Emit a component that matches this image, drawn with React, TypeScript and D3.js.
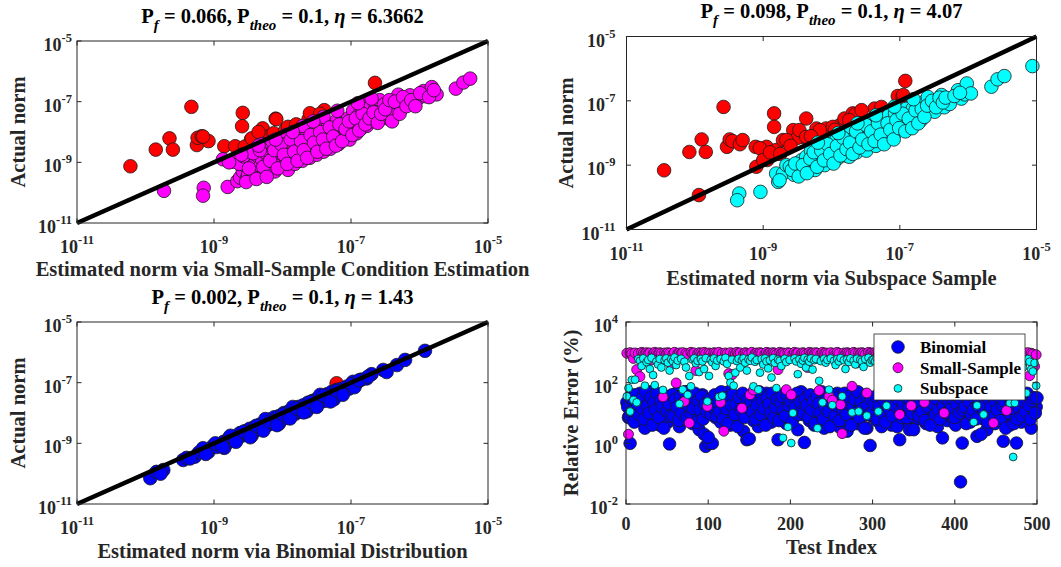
import React from 'react';
import * as d3 from 'd3';

// ---------- DATA (log10 values) ----------
// Panel 1: estimated (x) vs actual (y) norm, Small-Sample Condition Estimation
const ssceFail: [number, number][] = [
  [-10.22,-9.13],[-9.85,-8.58],[-9.65,-8.21],[-9.60,-8.58],[-9.33,-7.17],[-9.25,-8.43],[-9.24,-8.19],[-9.18,-8.14],
  [-9.08,-8.30],[-9.16,-8.15],[-8.85,-8.47],[-8.69,-8.47],[-8.58,-7.37],[-8.59,-7.81],[-8.46,-8.25],[-8.55,-8.48],
  [-8.45,-8.21],[-8.29,-7.88],[-8.10,-7.56],[-8.16,-8.14],[-8.20,-8.15],[-8.13,-8.04],[-8.09,-7.58],[-7.96,-7.94],
  [-7.92,-7.83],[-7.55,-7.45],[-7.39,-7.28],[-7.62,-7.58],[-7.60,-7.38],[-6.65,-6.38],[-7.45,-7.40],[-8.35,-8.00],[-7.80,-7.75]
];
const ssceOk: [number, number][] = [
  [-9.73,-9.94],[-9.15,-9.84],[-9.16,-10.10],[-8.80,-9.81],[-8.87,-8.90],[-8.72,-8.98],
  [-8.66,-9.62],[-8.62,-9.50],[-8.58,-9.30],[-8.55,-9.10],[-8.52,-9.52],[-8.50,-9.40],[-8.47,-8.95],[-8.45,-9.25],
  [-8.42,-9.45],[-8.40,-9.05],[-8.37,-8.78],[-8.35,-9.30],[-8.32,-9.12],[-8.30,-8.90],[-8.27,-9.38],[-8.24,-8.70],
  [-8.21,-9.00],[-8.19,-8.66],[-8.17,-9.22],[-8.14,-8.85],[-8.11,-9.30],[-8.08,-8.55],[-8.06,-8.95],[-8.03,-9.10],
  [-8.00,-8.70],[-7.97,-8.48],[-7.95,-8.90],[-7.92,-9.25],[-7.90,-8.60],[-7.87,-8.35],[-7.85,-8.80],[-7.82,-9.05],
  [-7.80,-8.50],[-7.77,-8.22],[-7.74,-8.70],[-7.71,-8.95],[-7.68,-8.40],[-7.65,-8.15],[-7.63,-8.62],[-7.60,-8.85],
  [-7.58,-8.30],[-7.55,-8.05],[-7.52,-8.50],[-7.50,-8.75],[-7.47,-8.20],[-7.44,-7.90],[-7.42,-8.40],[-7.40,-8.65],
  [-7.37,-8.10],[-7.34,-7.80],[-7.32,-8.30],[-7.30,-8.55],[-7.27,-7.95],[-7.24,-8.20],[-7.21,-7.62],[-7.18,-8.40],
  [-7.15,-7.95],[-7.12,-8.15],[-7.10,-7.70],[-7.07,-8.00],[-7.04,-7.55],[-7.02,-8.25],[-6.99,-7.85],[-6.97,-7.30],
  [-6.94,-7.70],[-6.92,-8.05],[-6.89,-7.45],[-6.86,-7.90],[-6.84,-7.20],[-6.82,-7.60],[-6.80,-7.05],[-6.77,-7.80],
  [-6.74,-7.40],[-6.71,-7.15],[-6.68,-7.65],[-6.65,-7.25],[-6.62,-7.50],
  [-8.30,-8.40],[-7.70,-7.80],[-7.40,-7.50],[-7.95,-8.10],[-8.15,-8.30],
  [-6.59,-7.34],[-6.58,-6.95],[-6.52,-7.10],[-6.47,-7.55],[-6.42,-7.20],[-6.38,-7.45],[-6.31,-6.77],[-6.26,-7.23],
  [-6.22,-6.95],[-6.14,-6.79],[-6.09,-7.01],[-6.02,-6.90],[-5.94,-6.65],[-5.91,-6.82],[-5.82,-6.52],[-5.75,-6.76],
  [-5.47,-6.57],[-5.36,-6.37],[-5.26,-6.24],
  [-8.63,-9.05],[-8.57,-8.80],[-8.53,-9.65],[-8.49,-9.20],[-8.43,-8.70],[-8.38,-9.55],[-8.33,-8.60],[-8.28,-9.15],
  [-8.23,-9.48],[-8.18,-8.95],[-8.12,-8.60],[-8.07,-9.20],[-8.02,-8.40],[-7.98,-8.75],[-7.93,-9.05],[-7.88,-8.25],
  [-7.83,-8.65],[-7.78,-8.95],[-7.73,-8.30],[-7.69,-8.60],[-7.64,-8.85],[-7.59,-8.10],[-7.54,-8.35],[-7.49,-8.65],
  [-7.45,-8.00],[-7.41,-8.25],[-7.36,-8.55],[-7.31,-7.85],[-7.26,-8.15],[-7.22,-8.45],[-7.17,-7.75],[-7.13,-8.30],
  [-7.08,-7.90],[-7.03,-7.65],[-6.98,-8.10],[-6.93,-7.55],[-6.88,-7.95],[-6.83,-7.40],[-6.79,-7.75],[-6.73,-7.55],
  [-6.67,-7.35],[-6.61,-7.70],[-6.56,-7.40],[-6.50,-7.25],[-6.44,-6.95],[-6.40,-7.65],[-6.36,-7.00],[-6.29,-7.40],
  [-6.24,-6.85],[-6.19,-7.15],[-6.12,-6.95],[-6.06,-7.15],[-5.99,-6.72],[-5.86,-6.85],[-5.79,-6.62],[-8.35,-8.45],
  [-8.10,-8.25],[-7.85,-8.00],[-7.55,-7.65],[-7.20,-7.30],[-6.90,-7.05],[-6.70,-6.90],[-8.60,-8.75],[-8.78,-9.00]
];

// Panel 2: Subspace Sample
const subFail: [number, number][] = [
  [-10.45,-9.16],[-10.08,-8.59],[-9.90,-8.20],[-9.84,-8.59],[-9.58,-7.19],[-9.53,-8.43],[-9.49,-8.20],[-9.45,-8.25],
  [-9.34,-8.35],[-9.94,-9.93],[-9.10,-9.05],[-9.11,-8.43],[-8.95,-8.43],[-8.94,-8.84],[-8.84,-7.39],[-8.84,-7.81],
  [-8.81,-8.53],[-8.71,-8.22],[-8.56,-7.91],[-8.37,-7.55],[-8.44,-8.12],[-8.50,-8.15],[-8.22,-7.86],[-8.08,-7.86],
  [-7.88,-7.76],[-7.81,-7.55],[-7.69,-7.39],[-7.65,-7.42],[-7.37,-7.24],[-7.03,-6.85],[-6.92,-6.38],[-9.05,-8.47],
  [-9.00,-8.84],[-8.90,-8.60],[-8.66,-8.22],[-8.47,-7.91],[-8.37,-8.12],[-8.17,-7.91],[-7.98,-7.81],[-7.74,-7.60],
  [-7.56,-7.29],[-7.27,-7.19],[-6.96,-6.87],[-9.30,-8.22],[-6.95,-6.82],[-8.60,-8.40],[-8.30,-8.10],[-7.95,-7.90],[-8.75,-8.65]
];
const subOk: [number, number][] = [
  [-9.35,-9.88],[-9.38,-10.09],[-9.04,-9.83],[-8.78,-9.52],[-8.81,-9.26],[-8.71,-9.26],[-8.66,-9.00],[-8.61,-9.05],[-8.76,-9.47],
  [-8.55,-9.30],[-8.50,-9.10],[-8.47,-9.16],[-8.44,-8.85],[-8.40,-9.20],[-8.37,-8.74],[-8.34,-9.05],[-8.30,-8.55],
  [-8.27,-8.95],[-8.24,-9.15],[-8.22,-8.90],[-8.19,-8.45],[-8.16,-8.75],[-8.13,-8.38],[-8.10,-9.00],[-8.07,-8.60],
  [-8.04,-8.25],[-8.01,-8.85],[-7.98,-8.45],[-7.95,-8.10],[-7.93,-8.22],[-7.91,-8.79],[-7.88,-8.55],[-7.85,-8.05],
  [-7.82,-8.35],[-7.79,-8.70],[-7.76,-8.15],[-7.74,-8.74],[-7.71,-7.90],[-7.68,-8.45],[-7.66,-8.12],[-7.63,-8.60],
  [-7.60,-7.80],[-7.57,-8.30],[-7.54,-8.00],[-7.52,-8.38],[-7.49,-8.55],[-7.47,-7.81],[-7.44,-8.20],[-7.41,-7.65],
  [-7.38,-8.05],[-7.35,-8.40],[-7.33,-7.55],[-7.30,-7.96],[-7.27,-8.25],[-7.24,-7.75],[-7.22,-7.60],[-7.19,-8.05],
  [-7.16,-7.45],[-7.13,-8.12],[-7.10,-7.80],[-7.07,-7.40],[-7.04,-7.95],[-7.00,-7.34],[-6.97,-7.62],[-6.94,-7.85],
  [-6.91,-7.25],[-6.88,-7.70],[-6.85,-7.45],[-6.83,-7.65],[-6.81,-7.24],[-6.78,-7.50],[-6.75,-7.15],[-6.72,-7.40],
  [-6.69,-7.60],[-6.66,-7.05],[-6.63,-7.30],
  [-6.59,-6.88],[-6.55,-7.15],[-6.49,-7.34],[-6.45,-7.00],[-6.39,-6.82],[-6.35,-7.20],[-6.30,-6.98],[-6.27,-7.10],
  [-6.15,-6.67],[-6.10,-6.93],[-6.05,-6.80],[-6.02,-6.46],[-5.96,-6.77],[-5.66,-6.56],[-5.57,-6.33],[-5.47,-6.23],[-5.06,-5.92],
  [-8.58,-9.15],[-8.53,-8.95],[-8.48,-9.35],[-8.42,-9.00],[-8.36,-9.25],[-8.31,-8.80],[-8.26,-8.60],[-8.21,-9.05],
  [-8.15,-8.55],[-8.11,-8.85],[-8.06,-8.35],[-8.02,-8.65],[-7.97,-8.95],[-7.92,-8.40],[-7.87,-8.70],[-7.83,-8.15],
  [-7.78,-8.50],[-7.73,-8.30],[-7.69,-8.65],[-7.64,-7.95],[-7.59,-8.45],[-7.55,-8.20],[-7.50,-7.75],[-7.46,-8.35],
  [-7.42,-7.95],[-7.37,-8.25],[-7.32,-7.70],[-7.28,-8.05],[-7.23,-8.35],[-7.18,-7.70],[-7.14,-7.90],[-7.09,-8.20],
  [-7.05,-7.60],[-7.01,-7.85],[-6.96,-7.40],[-6.92,-7.95],[-6.87,-7.55],[-6.82,-7.85],[-6.77,-7.30],[-6.73,-7.70],
  [-6.68,-7.25],[-6.64,-7.50],[-6.60,-7.15],[-6.53,-7.00],[-6.47,-7.20],[-6.42,-6.90],[-6.37,-7.05],[-6.33,-6.90],
  [-6.20,-6.85],[-6.12,-6.75],[-8.20,-8.30],[-7.90,-8.00],[-7.62,-7.70],[-7.35,-7.45],[-7.08,-7.18],[-6.80,-6.95]
];

// Panel 3: Binomial Distribution
const binFail: [number, number][] = [[-7.21,-7.02]];
const binOk: [number, number][] = [
  [-9.93,-10.15],[-9.84,-9.94],[-9.74,-9.88],[-9.78,-10.00],[-9.45,-9.55],[-9.40,-9.48],[-9.28,-9.44],[-9.22,-9.30],
  [-9.16,-9.16],[-9.08,-9.28],[-9.02,-9.10],[-8.96,-9.12],[-8.91,-9.05],[-8.86,-8.95],[-8.82,-9.02],[-8.78,-8.82],
  [-8.74,-8.90],[-8.70,-8.78],[-8.66,-8.85],[-8.62,-8.66],[-8.58,-8.74],[-8.55,-8.60],[-8.51,-8.70],[-8.48,-8.52],
  [-8.44,-8.62],[-8.40,-8.45],[-8.37,-8.55],[-8.33,-8.38],[-8.30,-8.48],[-8.26,-8.30],[-8.23,-8.42],[-8.19,-8.22],
  [-8.16,-8.35],[-8.12,-8.14],[-8.09,-8.28],[-8.05,-8.10],[-8.02,-8.22],[-7.98,-8.00],[-7.95,-8.16],[-7.91,-7.95],
  [-7.88,-8.08],[-7.84,-7.88],[-7.81,-8.02],[-7.77,-7.80],[-7.74,-7.95],[-7.70,-7.75],[-7.67,-7.88],[-7.63,-7.66],
  [-7.60,-7.82],[-7.56,-7.60],[-7.53,-7.74],[-7.49,-7.52],[-7.46,-7.66],[-7.42,-7.45],[-7.39,-7.60],[-7.35,-7.38],
  [-7.32,-7.52],[-7.28,-7.30],[-7.25,-7.45],[-7.21,-7.24],[-7.18,-7.38],[-7.14,-7.20],[-7.10,-7.28],[-7.06,-7.13],
  [-7.03,-7.20],[-6.97,-6.97],[-6.92,-7.02],[-6.85,-6.90],[-6.77,-6.86],[-6.70,-6.72],[-6.53,-6.58],[-6.48,-6.65],
  [-6.33,-6.42],[-6.21,-6.25],[-5.92,-5.95],
  [-8.45,-8.75],[-8.05,-8.35],[-7.65,-7.95],[-7.25,-7.55],[-8.85,-9.15],[-8.25,-8.20],[-7.85,-7.80],[-7.45,-7.40],
  [-9.35,-9.50],[-9.12,-9.35],[-8.98,-9.00],[-8.88,-9.10],[-8.76,-8.75],[-8.68,-8.95],[-8.57,-8.62],[-8.47,-8.80],
  [-8.38,-8.42],[-8.28,-8.58],[-8.18,-8.28],[-8.08,-8.40],[-7.99,-8.05],[-7.89,-8.18],[-7.79,-7.85],[-7.69,-7.98],
  [-7.59,-7.64],[-7.50,-7.80],[-7.40,-7.43],[-7.30,-7.62],[-7.20,-7.27],[-7.12,-7.40],[-7.00,-7.05],[-6.95,-7.15],
  [-6.88,-6.92],[-6.75,-6.80]
];

// Panel 4: relative error (log10 %), odd test indices 1,3,...,499 and even ones 2,4,...,500
const binomialErrOdd: number[] = [
  1.35,0.85,0.0,1.6,1.1,1.45,0.75,1.2,1.65,0.95,1.3,0.5,1.5,1.05,1.7,0.8,1.25,1.55,0.9,1.4,0.6,1.15,1.6,1.0,1.35,
  0.7,-0.02,1.45,1.2,0.9,1.65,1.05,0.55,1.3,1.5,0.8,1.7,1.15,0.95,1.4,0.65,1.25,1.55,1.0,0.45,1.35,1.6,0.3,-0.1,1.2,
  0.0,1.1,0.0,1.45,0.85,1.3,1.6,0.7,1.2,1.5,0.95,1.35,1.7,0.6,1.05,1.4,0.8,1.25,1.55,0.9,1.15,0.4,1.45,0.12,1.3,
  1.0,1.6,0.75,1.2,1.4,0.55,1.5,1.1,0.85,1.35,1.65,0.95,1.25,0.7,1.55,1.05,1.4,0.12,1.3,0.9,1.6,1.15,0.65,1.45,1.0,
  1.25,0.8,1.55,1.1,0.45,1.35,1.7,0.95,0.03,1.2,1.5,0.75,1.3,1.05,0.6,1.45,1.15,0.85,1.6,1.25,0.5,1.4,0.9,1.1,1.55,
  0.7,1.3,1.0,1.65,0.55,1.2,1.45,0.85,1.35,0.4,1.1,1.6,0.95,1.25,1.5,0.65,1.15,0.8,1.4,1.05,1.55,0.5,1.3,-0.07,0.9,
  1.45,1.1,0.75,1.35,1.6,0.55,1.2,1.0,1.5,0.85,1.3,0.6,1.4,1.15,0.95,1.55,0.12,1.25,1.05,1.45,0.7,1.35,0.45,1.2,0.9,
  1.5,1.1,0.8,1.35,1.6,0.95,1.25,0.65,1.45,1.05,1.3,0.85,1.55,1.15,0.55,1.4,1.0,0.18,1.2,1.5,0.75,1.35,0.9,1.1,1.45,
  0.6,1.25,1.05,-1.27,0.01,1.4,0.85,1.15,1.55,0.7,1.3,0.95,1.45,0.23,1.2,1.0,1.5,0.8,1.35,0.45,1.1,1.6,0.9,1.25,0.65,
  1.4,1.05,0.8,1.3,0.07,1.5,0.95,1.15,0.6,1.35,0.85,1.2,0.01,1.45,1.0,0.7,1.25,1.55,0.9,1.1,1.3,0.5,1.5,1.15,1.2
];
const binomialErrEven: number[] = [
  1.2,0.9,1.5,1.05,0.7,1.6,1.3,0.95,1.45,1.15,0.8,1.7,1.25,1.0,1.5,0.6,1.35,1.1,1.65,0.85,1.4,1.2,0.5,1.55,1.05,
  1.3,0.9,1.6,0.9,1.45,1.2,0.75,1.55,1.0,1.35,1.7,0.85,1.25,1.5,0.95,1.15,1.65,0.7,1.4,1.1,1.55,0.8,1.3,1.05,0.2,
  1.45,0.95,1.2,1.6,0.9,1.35,1.05,1.7,0.8,1.5,1.15,0.65,1.4,1.25,1.6,0.95,1.3,0.55,1.5,1.1,1.65,0.85,1.2,1.45,0.15,
  1.35,1.05,1.55,0.8,1.25,1.7,0.95,1.4,1.15,0.6,1.5,1.3,1.0,1.65,0.85,1.2,1.45,0.75,1.35,1.55,1.1,0.9,1.6,1.25,1.4,
  0.7,1.5,1.2,1.65,0.95,1.35,1.05,1.0,1.45,1.25,0.85,1.6,1.1,1.4,0.65,1.55,1.3,1.0,1.7,0.8,1.2,1.45,1.05,0.55,1.35,
  1.6,0.9,1.25,1.5,0.75,1.4,1.1,1.65,0.95,1.3,1.55,0.6,1.2,1.45,1.0,1.7,0.85,1.35,1.15,0.5,1.6,1.25,0.95,1.45,1.05,
  1.3,1.55,0.8,1.2,1.65,1.0,1.4,0.7,1.5,1.15,1.35,0.9,1.6,1.25,0.55,1.45,1.05,0.85,1.3,1.55,0.85,1.2,1.4,1.0,0.45,
  1.25,1.5,0.9,1.35,1.05,1.65,0.75,1.4,1.2,0.6,1.55,1.3,0.95,1.45,1.1,0.8,1.6,1.25,1.5,1.0,1.0,1.35,1.15,1.45,0.85,
  1.3,1.55,1.0,1.45,1.1,1.2,0.65,1.6,1.35,0.95,1.1,1.5,0.8,1.25,1.4,0.3,1.55,1.05,1.3,0.7,1.45,1.2,1.6,0.9,1.35,
  1.1,1.5,0.75,1.25,1.4,0.5,1.6,1.0,1.3,1.15,0.65,1.45,0.8,1.2,1.55,0.9,1.35,1.05,1.65,1.25,0.8,1.4,1.5,1.0,1.5
];
const smallSampleErr: number[] = [
  2.97,0.3,2.99,2.95,2.8,2.98,2.43,2.96,2.2,3.0,2.97,2.94,2.99,2.96,2.98,2.75,2.95,3.0,2.97,2.93,2.99,2.96,1.53,2.98,2.95,
  2.99,2.97,2.6,2.94,3.0,1.99,2.96,2.98,2.95,2.99,1.38,2.97,2.93,0.67,3.0,2.96,2.98,2.4,2.95,2.99,2.97,2.94,3.0,2.96,1.22,
  2.98,2.95,2.85,2.99,2.97,2.93,3.0,1.35,2.96,0.4,2.98,2.95,2.3,2.99,2.26,2.97,2.94,3.0,2.96,2.98,1.16,2.95,2.99,2.97,2.93,
  1.6,3.0,1.76,2.96,2.98,2.95,2.99,2.97,2.7,2.94,3.0,2.96,2.98,2.95,2.99,2.97,2.93,2.43,3.0,2.96,2.98,2.95,1.77,2.99,2.97,
  1.6,2.94,3.0,2.96,2.98,2.8,2.95,2.99,2.97,2.93,2.5,3.0,2.96,2.98,2.95,2.99,2.97,1.74,2.94,3.0,2.96,2.98,2.95,1.55,2.99,
  1.42,2.97,2.93,3.0,2.96,1.27,0.32,2.98,2.95,2.99,2.97,2.94,1.88,3.0,2.96,2.65,2.98,2.95,2.99,2.97,2.93,1.66,3.0,2.96,2.98,
  2.95,2.99,2.97,2.94,3.0,2.96,2.98,2.95,2.99,2.97,2.75,2.93,3.0,2.96,2.98,2.95,0.95,2.99,2.97,2.94,3.0,2.96,2.98,1.24,2.95,
  2.99,2.97,2.93,3.0,2.96,2.98,1.35,2.95,2.99,2.97,2.94,3.0,2.96,2.98,2.95,2.99,2.97,2.93,1.0,3.0,2.96,2.98,2.95,2.99,2.97,
  2.8,2.94,3.0,2.96,2.98,2.95,2.99,2.97,2.93,3.0,2.96,2.98,2.95,2.99,2.97,2.94,3.0,2.96,2.98,2.95,2.99,2.97,2.93,0.67,3.0,
  2.96,2.98,2.95,2.99,2.97,2.94,1.08,3.0,2.96,2.98,2.95,2.99,2.97,2.93,3.0,2.6,2.96,2.98,2.95,2.99,2.23,2.97,2.94,2.54,2.92
];
const subspaceErr: number[] = [
  1.55,1.82,1.05,2.09,1.43,2.1,1.35,2.78,2.72,2.55,2.8,1.9,2.68,2.75,2.45,2.82,2.25,1.92,2.7,2.6,2.78,2.5,1.76,2.74,2.8,
  2.66,2.4,2.77,2.71,2.83,2.58,2.73,1.3,2.79,1.77,2.69,2.5,1.6,2.22,1.88,2.76,2.8,2.64,2.72,2.35,2.78,2.7,2.45,2.81,1.38,
  2.22,2.75,2.67,2.8,2.55,2.73,1.53,2.78,1.57,2.7,2.82,2.62,2.22,2.0,2.76,1.9,2.33,2.71,2.79,2.5,2.74,2.8,2.66,2.4,2.77,
  2.72,2.83,1.88,2.69,2.75,1.77,2.33,2.78,2.6,2.8,2.7,2.47,2.74,2.17,2.81,2.65,1.82,2.76,2.72,2.55,0.18,2.79,2.68,0.54,2.75,
  0.01,1.0,2.8,2.7,2.28,2.77,2.62,2.73,2.82,2.5,2.76,2.69,2.8,2.43,2.74,2.78,0.5,2.06,2.71,1.35,2.79,2.66,2.75,1.77,2.8,
  1.26,2.72,2.58,2.78,2.7,2.81,1.55,2.74,2.45,2.77,2.68,2.8,1.02,2.73,2.6,2.79,1.05,2.75,2.7,2.52,2.78,0.91,2.82,2.66,2.74,
  2.76,2.71,2.8,1.05,2.62,2.77,2.73,2.48,1.24,2.79,2.7,2.75,2.81,2.56,2.74,2.78,2.68,2.8,2.4,2.72,2.77,2.65,2.79,2.73,2.6,
  2.76,2.8,2.7,2.5,2.74,2.78,2.66,2.81,2.72,2.45,2.77,2.7,2.8,2.58,2.75,2.79,2.68,2.73,2.82,2.55,2.76,2.71,2.8,2.62,2.74,
  2.78,2.69,2.75,2.5,2.81,2.72,2.77,2.64,2.8,2.7,2.46,0.7,2.76,1.25,2.73,2.79,2.6,0.95,2.74,2.8,2.68,2.75,2.52,2.78,2.71,
  2.82,2.66,2.74,2.79,2.57,2.76,2.7,2.8,1.33,2.73,-0.45,1.33,2.77,2.62,2.75,2.8,2.5,2.72,1.66,2.78,2.69,2.44,2.37,2.65,1.9
];
const oddIndex: number[] = d3.range(1, 500, 2);
const evenIndex: number[] = d3.range(2, 501, 2);

const normTicks = [1e-11, 1e-9, 1e-7, 1e-5];
const errTicks = [1e-2, 1, 1e2, 1e4];
const indexTicks = [0, 100, 200, 300, 400, 500];
const legendLabels = ['Binomial', 'Small-Sample', 'Subspace'];

// ---------- STYLE ----------
const FONT = '"Liberation Serif", "Times New Roman", serif';
const AX = '#262626';
const EDGE = '#1a1a1a';

type Box = { x0: number; x1: number; y0: number; y1: number };

function expOf(v: number) {
  return String(Math.round(Math.log10(v)));
}

function PowLabelY({ x, y, v }: { x: number; y: number; v: number }) {
  return (
    <text x={x} y={y + 10} textAnchor="end" fontFamily={FONT} fontWeight="bold" fontSize={18} fill={AX}>
      10<tspan dy={-9} fontSize={12.5}>{expOf(v)}</tspan>
    </text>
  );
}
function PowLabelX({ x, y, v }: { x: number; y: number; v: number }) {
  return (
    <text x={x} y={y} textAnchor="middle" fontFamily={FONT} fontWeight="bold" fontSize={18} fill={AX}>
      10<tspan dy={-9} fontSize={12.5}>{expOf(v)}</tspan>
    </text>
  );
}

function Title({ cx, y, pf, eta }: { cx: number; y: number; pf: string; eta: string }) {
  return (
    <text x={cx} y={y} textAnchor="middle" fontFamily={FONT} fontWeight="bold" fontSize={20.5} fill="#000">
      P<tspan dy={7} fontSize={15} fontStyle="italic">f</tspan>
      <tspan dy={-7}>{` = ${pf}, P`}</tspan>
      <tspan dy={7} fontSize={15} fontStyle="italic">theo</tspan>
      <tspan dy={-7}>{' = 0.1, '}</tspan>
      <tspan fontStyle="italic">η</tspan>
      <tspan>{` = ${eta}`}</tspan>
    </text>
  );
}

function NormPanel({ box, fail, ok, okColor, pf, eta, xlabel, xlabelY, ylabelX, tickLabelGap }: {
  box: Box; fail: [number, number][]; ok: [number, number][]; okColor: string; pf: string; eta: string;
  xlabel: string; xlabelY: number; ylabelX: number; tickLabelGap: number;
}) {
  const xs = d3.scaleLog().domain([1e-11, 1e-5]).range([box.x0, box.x1]);
  const ys = d3.scaleLog().domain([1e-11, 1e-5]).range([box.y1, box.y0]);
  const cx = (box.x0 + box.x1) / 2;
  const cy = (box.y0 + box.y1) / 2;
  return (
    <g>
      {fail.map(([a, b], i) => (
        <circle key={'f' + i} cx={xs(Math.pow(10, a))} cy={ys(Math.pow(10, b))} r={6.8} fill="#ff0000" stroke={EDGE} strokeWidth={0.8} />
      ))}
      {ok.map(([a, b], i) => (
        <circle key={'o' + i} cx={xs(Math.pow(10, a))} cy={ys(Math.pow(10, b))} r={6.8} fill={okColor} stroke={EDGE} strokeWidth={0.8} />
      ))}
      <line x1={xs(1e-11)} y1={ys(1e-11)} x2={xs(1e-5)} y2={ys(1e-5)} stroke="#000" strokeWidth={4.5} />
      <rect x={box.x0} y={box.y0} width={box.x1 - box.x0} height={box.y1 - box.y0} fill="none" stroke={AX} strokeWidth={1} />
      {normTicks.map((t) => (
        <g key={'xt' + t}>
          <line x1={xs(t)} x2={xs(t)} y1={box.y1} y2={box.y1 - 4.5} stroke={AX} />
          <line x1={xs(t)} x2={xs(t)} y1={box.y0} y2={box.y0 + 4.5} stroke={AX} />
          <line x1={box.x0} x2={box.x0 + 4.5} y1={ys(t)} y2={ys(t)} stroke={AX} />
          <line x1={box.x1} x2={box.x1 - 4.5} y1={ys(t)} y2={ys(t)} stroke={AX} />
          <PowLabelX x={xs(t)} y={box.y1 + 30} v={t} />
          <PowLabelY x={box.x0 - tickLabelGap} y={ys(t)} v={t} />
        </g>
      ))}
      <Title cx={cx} y={box.y0 - 18.5} pf={pf} eta={eta} />
      <text x={cx} y={xlabelY} textAnchor="middle" fontFamily={FONT} fontWeight="bold" fontSize={20.5} fill={AX}>{xlabel}</text>
      <text transform={`translate(${ylabelX},${cy}) rotate(-90)`} textAnchor="middle" fontFamily={FONT} fontWeight="bold" fontSize={20.5} fill={AX}>Actual norm</text>
    </g>
  );
}

function ErrorPanel({ box }: { box: Box }) {
  const xs = d3.scaleLinear().domain([0, 500]).range([box.x0, box.x1]);
  const ys = d3.scaleLog().domain([1e-2, 1e4]).range([box.y1, box.y0]);
  const cy = (box.y0 + box.y1) / 2;
  const series = [
    { sets: [{ vals: binomialErrOdd, idx: oddIndex }, { vals: binomialErrEven, idx: evenIndex }], color: '#0000ff', r: 6.3 },
    { sets: [{ vals: smallSampleErr, idx: oddIndex }], color: '#ff00ff', r: 5 },
    { sets: [{ vals: subspaceErr, idx: oddIndex }], color: '#00ffff', r: 3.9 },
  ];
  const lg = { x0: 874, x1: 1025, y0: 334, y1: 400 };
  return (
    <g>
      {series.map((s, si) => (
        <g key={si}>
          {s.sets.map((set, k) =>
            set.vals.map((v, i) => (
              <circle key={k + '-' + i} cx={xs(set.idx[i])} cy={ys(Math.pow(10, v))} r={s.r} fill={s.color} stroke={EDGE} strokeWidth={0.8} />
            ))
          )}
        </g>
      ))}
      <rect x={box.x0} y={box.y0} width={box.x1 - box.x0} height={box.y1 - box.y0} fill="none" stroke={AX} strokeWidth={1} />
      {indexTicks.map((t) => (
        <g key={'xt' + t}>
          <line x1={xs(t)} x2={xs(t)} y1={box.y1} y2={box.y1 - 4.5} stroke={AX} />
          <line x1={xs(t)} x2={xs(t)} y1={box.y0} y2={box.y0 + 4.5} stroke={AX} />
          <text x={xs(t)} y={box.y1 + 26} textAnchor="middle" fontFamily={FONT} fontWeight="bold" fontSize={18} fill={AX}>{t}</text>
        </g>
      ))}
      {errTicks.map((t) => (
        <g key={'yt' + t}>
          <line x1={box.x0} x2={box.x0 + 4.5} y1={ys(t)} y2={ys(t)} stroke={AX} />
          <line x1={box.x1} x2={box.x1 - 4.5} y1={ys(t)} y2={ys(t)} stroke={AX} />
          <PowLabelY x={box.x0 - 8} y={ys(t)} v={t} />
        </g>
      ))}
      <text x={(box.x0 + box.x1) / 2} y={554} textAnchor="middle" fontFamily={FONT} fontWeight="bold" fontSize={20.5} fill={AX}>Test Index</text>
      <text transform={`translate(578,${cy}) rotate(-90)`} textAnchor="middle" fontFamily={FONT} fontWeight="bold" fontSize={20.5} fill={AX}>Relative Error (%)</text>
      <rect x={lg.x0} y={lg.y0} width={lg.x1 - lg.x0} height={lg.y1 - lg.y0} fill="#fff" stroke={AX} strokeWidth={0.8} />
      {legendLabels.map((lab, i) => (
        <g key={lab}>
          <circle cx={898} cy={347 + i * 20.7} r={series[i].r} fill={series[i].color} stroke={EDGE} strokeWidth={0.8} />
          <text x={920} y={353 + i * 20.7} fontFamily={FONT} fontWeight="bold" fontSize={17} fill="#000">{lab}</text>
        </g>
      ))}
    </g>
  );
}

export default function App() {
  return (
    <svg width={1061} height={567} style={{ position: 'absolute', left: 0, top: 0, background: '#fff' }}>
      <rect x={0} y={0} width={1061} height={567} fill="#fff" />
      <NormPanel box={{ x0: 77, x1: 488, y0: 41, y1: 223 }} fail={ssceFail} ok={ssceOk} okColor="#ff00ff" pf="0.066" eta="6.3662"
        xlabel="Estimated norm via Small-Sample Condition Estimation" xlabelY={276} ylabelX={25} tickLabelGap={5} />
      <NormPanel box={{ x0: 626.5, x1: 1036.5, y0: 36.5, y1: 229.5 }} fail={subFail} ok={subOk} okColor="#00ffff" pf="0.098" eta="4.07"
        xlabel="Estimated norm via Subspace Sample" xlabelY={285} ylabelX={573} tickLabelGap={11} />
      <NormPanel box={{ x0: 77, x1: 488, y0: 322, y1: 504 }} fail={binFail} ok={binOk} okColor="#0000ff" pf="0.002" eta="1.43"
        xlabel="Estimated norm via Binomial Distribution" xlabelY={558} ylabelX={25} tickLabelGap={5} />
      <ErrorPanel box={{ x0: 626, x1: 1037, y0: 322, y1: 504 }} />
    </svg>
  );
}
